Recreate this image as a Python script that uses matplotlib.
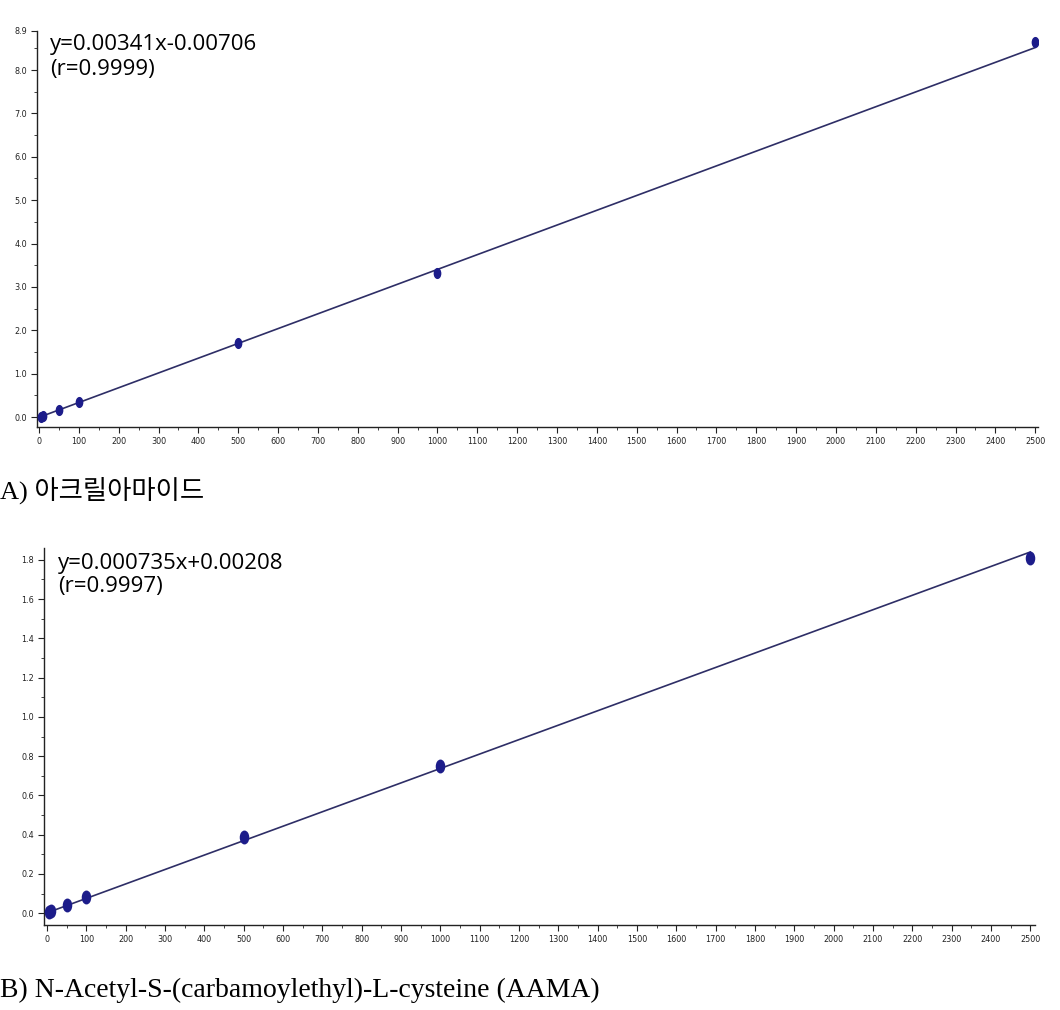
import numpy as np
import matplotlib
matplotlib.use("Agg")
import matplotlib.pyplot as plt
from matplotlib.path import Path
from matplotlib.transforms import Affine2D
from matplotlib.ticker import MultipleLocator

# ---- data ----
conc_a = [5, 10, 50, 100, 500, 1000, 2500]
resp_a = [0.01, 0.03, 0.16, 0.34, 1.70, 3.33, 8.65]
slope_a, icpt_a = 0.00341, -0.00706
eq_a = "y=0.00341x-0.00706\n(r=0.9999)"
yticks_a = [0.0, 1.0, 2.0, 3.0, 4.0, 5.0, 6.0, 7.0, 8.0, 8.9]
caption_a = "A) 아크릴아마이드"

conc_b = [5, 10, 50, 100, 500, 1000, 2500]
resp_b = [0.005, 0.01, 0.04, 0.085, 0.39, 0.75, 1.81]
slope_b, icpt_b = 0.000735, 0.00208
eq_b = "y=0.000735x+0.00208\n(r=0.9997)"
yticks_b = [0.0, 0.2, 0.4, 0.6, 0.8, 1.0, 1.2, 1.4, 1.6, 1.8]
caption_b = "B) N-Acetyl-S-(carbamoylethyl)-L-cysteine (AAMA)"

xticks = list(range(0, 2501, 100))

W, H = 1060, 1010
fig = plt.figure(figsize=(W/100, H/100), dpi=100)

def ax_at(l, t, r, b):
    return fig.add_axes([l/W, 1-b/H, (r-l)/W, (b-t)/H])

line_c = "#2e2e66"
mark_c = "#1c1c8a"
ell = Path.unit_circle().transformed(Affine2D().scale(0.65, 1.0))

def style(ax, yt, ymaj_fmt, yminor):
    for s in ("top", "right"):
        ax.spines[s].set_visible(False)
    for s in ("left", "bottom"):
        ax.spines[s].set_color("#222222")
        ax.spines[s].set_linewidth(1.0)
    ax.set_xticks(xticks)
    ax.set_xticklabels([str(v) for v in xticks])
    ax.xaxis.set_minor_locator(MultipleLocator(50))
    ax.set_yticks(yt)
    ax.set_yticklabels([ymaj_fmt.format(v) for v in yt])
    ax.yaxis.set_minor_locator(MultipleLocator(yminor))
    ax.tick_params(axis="both", which="major", length=4, width=0.8,
                   labelsize=6.5, colors="#222222", pad=3)
    ax.tick_params(axis="both", which="minor", length=2, width=0.6, colors="#222222")
    for lab in ax.get_xticklabels() + ax.get_yticklabels():
        lab.set_fontstretch("condensed")

# ---- top chart ----
axA = ax_at(37, 31, 1038, 427)
xs = np.array([0, 2500])
axA.plot(xs, slope_a*xs + icpt_a, color=line_c, lw=1.2, zorder=2)
axA.plot(conc_a, resp_a, linestyle="none", marker=ell, markersize=7,
         color=mark_c, zorder=3)
axA.set_xlim(-5, 2507)
axA.set_ylim(-0.23, 8.9)
style(axA, yticks_a, "{:.1f}", 0.5)
axA.text(50/W, 1-34/H, eq_a, transform=fig.transFigure, fontsize=16,
         va="top", ha="left", family=["Open Sans", "DejaVu Sans"], linespacing=1.25)

# ---- bottom chart ----
axB = ax_at(44, 548, 1035, 925)
axB.plot(xs, slope_b*xs + icpt_b, color=line_c, lw=1.2, zorder=2)
axB.plot(conc_b, resp_b, linestyle="none", marker=ell, markersize=9,
         color=mark_c, zorder=3)
axB.set_xlim(-7.6, 2512)
axB.set_ylim(-0.06, 1.86)
style(axB, yticks_b, "{:.1f}", 0.1)
axB.text(58/W, 1-553/H, eq_b, transform=fig.transFigure, fontsize=16,
         va="top", ha="left", family=["Open Sans", "DejaVu Sans"], linespacing=1.1)

# ---- captions ----
fig.text(0, 1-490/H, caption_a, fontsize=19, va="center", ha="left",
         family=["Liberation Serif", "Noto Sans CJK KR"])
fig.text(0, 1-990/H, caption_b, fontsize=20, va="center", ha="left",
         family=["Liberation Serif", "Noto Sans CJK KR"])

fig.savefig("out.png", dpi=100, facecolor="white")
